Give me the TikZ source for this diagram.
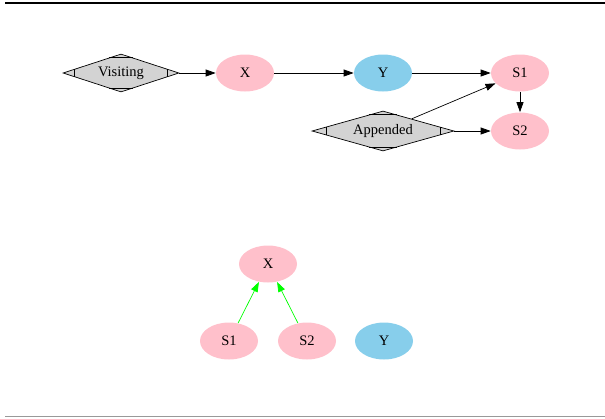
\documentclass[tikz,border=0pt]{standalone}
\usepackage{fontspec}
\setmainfont{Liberation Serif}
\usetikzlibrary{shapes.geometric,arrows.meta,calc}

% small cuts at the four tips of a diamond node
\newcommand{\cutcorners}[1]{%
  \foreach \v/\a/\b in {west/north/south, east/north/south, north/west/east, south/west/east}
    \draw ($(#1.\v)!0.2!(#1.\a)$) -- ($(#1.\v)!0.2!(#1.\b)$);}

\definecolor{pink1}{HTML}{FFC0CB}
\definecolor{skyblue}{HTML}{87CEEB}
\definecolor{lightgray1}{HTML}{D3D3D3}
\definecolor{green1}{HTML}{00FF00}

\tikzset{
  pinknode/.style={ellipse, fill=pink1, inner sep=0pt, minimum width=58pt, minimum height=37pt},
  bluenode/.style={ellipse, fill=skyblue, inner sep=0pt, minimum width=58pt, minimum height=37pt},
  tagnode/.style={diamond, draw, fill=lightgray1, inner sep=0pt, aspect=3.5},
  edge/.style={-{Triangle[length=10pt,width=7pt]}},
}

\begin{document}
\begin{tikzpicture}[x=1pt, y=-1pt, line width=0.7pt, font=\fontsize{14.5}{16}\selectfont]
      \useasboundingbox (0,0) rectangle (605,418);
      % rules above and below
      \draw[line width=2.5pt] (5,3) -- (605,3);
      \draw[gray!120!black, line width=1pt] (5,416.5) -- (605,416.5);

      % upper graph
      \node[tagnode, minimum width=116pt, minimum height=38pt] (visiting) at (121,73) {Visiting};
      \node[pinknode] (xa) at (245,73) {X};
      \node[bluenode] (ya) at (383,73) {Y};
      \node[pinknode] (sa) at (520,73) {S1};
      \node[pinknode] (sb) at (520,131) {S2};
      \node[tagnode, minimum width=142pt, minimum height=40pt] (appended) at (383,131) {Appended};
      \cutcorners{visiting}
      \cutcorners{appended}
      \draw[edge] (visiting) -- (xa);
      \draw[edge] (xa) -- (ya);
      \draw[edge] (ya) -- (sa);
      \draw[edge] (sa) -- (sb);
      \draw[edge] (appended) -- (sa);
      \draw[edge] (appended) -- (sb);

      % lower graph
      \node[pinknode] (xb) at (268,264) {X};
      \node[pinknode] (sc) at (229,341) {S1};
      \node[pinknode] (sd) at (307,341) {S2};
      \node[bluenode] (yb) at (384,341) {Y};
      \draw[edge, green1] (sc) -- (xb);
      \draw[edge, green1] (sd) -- (xb);
    \end{tikzpicture}
\end{document}
